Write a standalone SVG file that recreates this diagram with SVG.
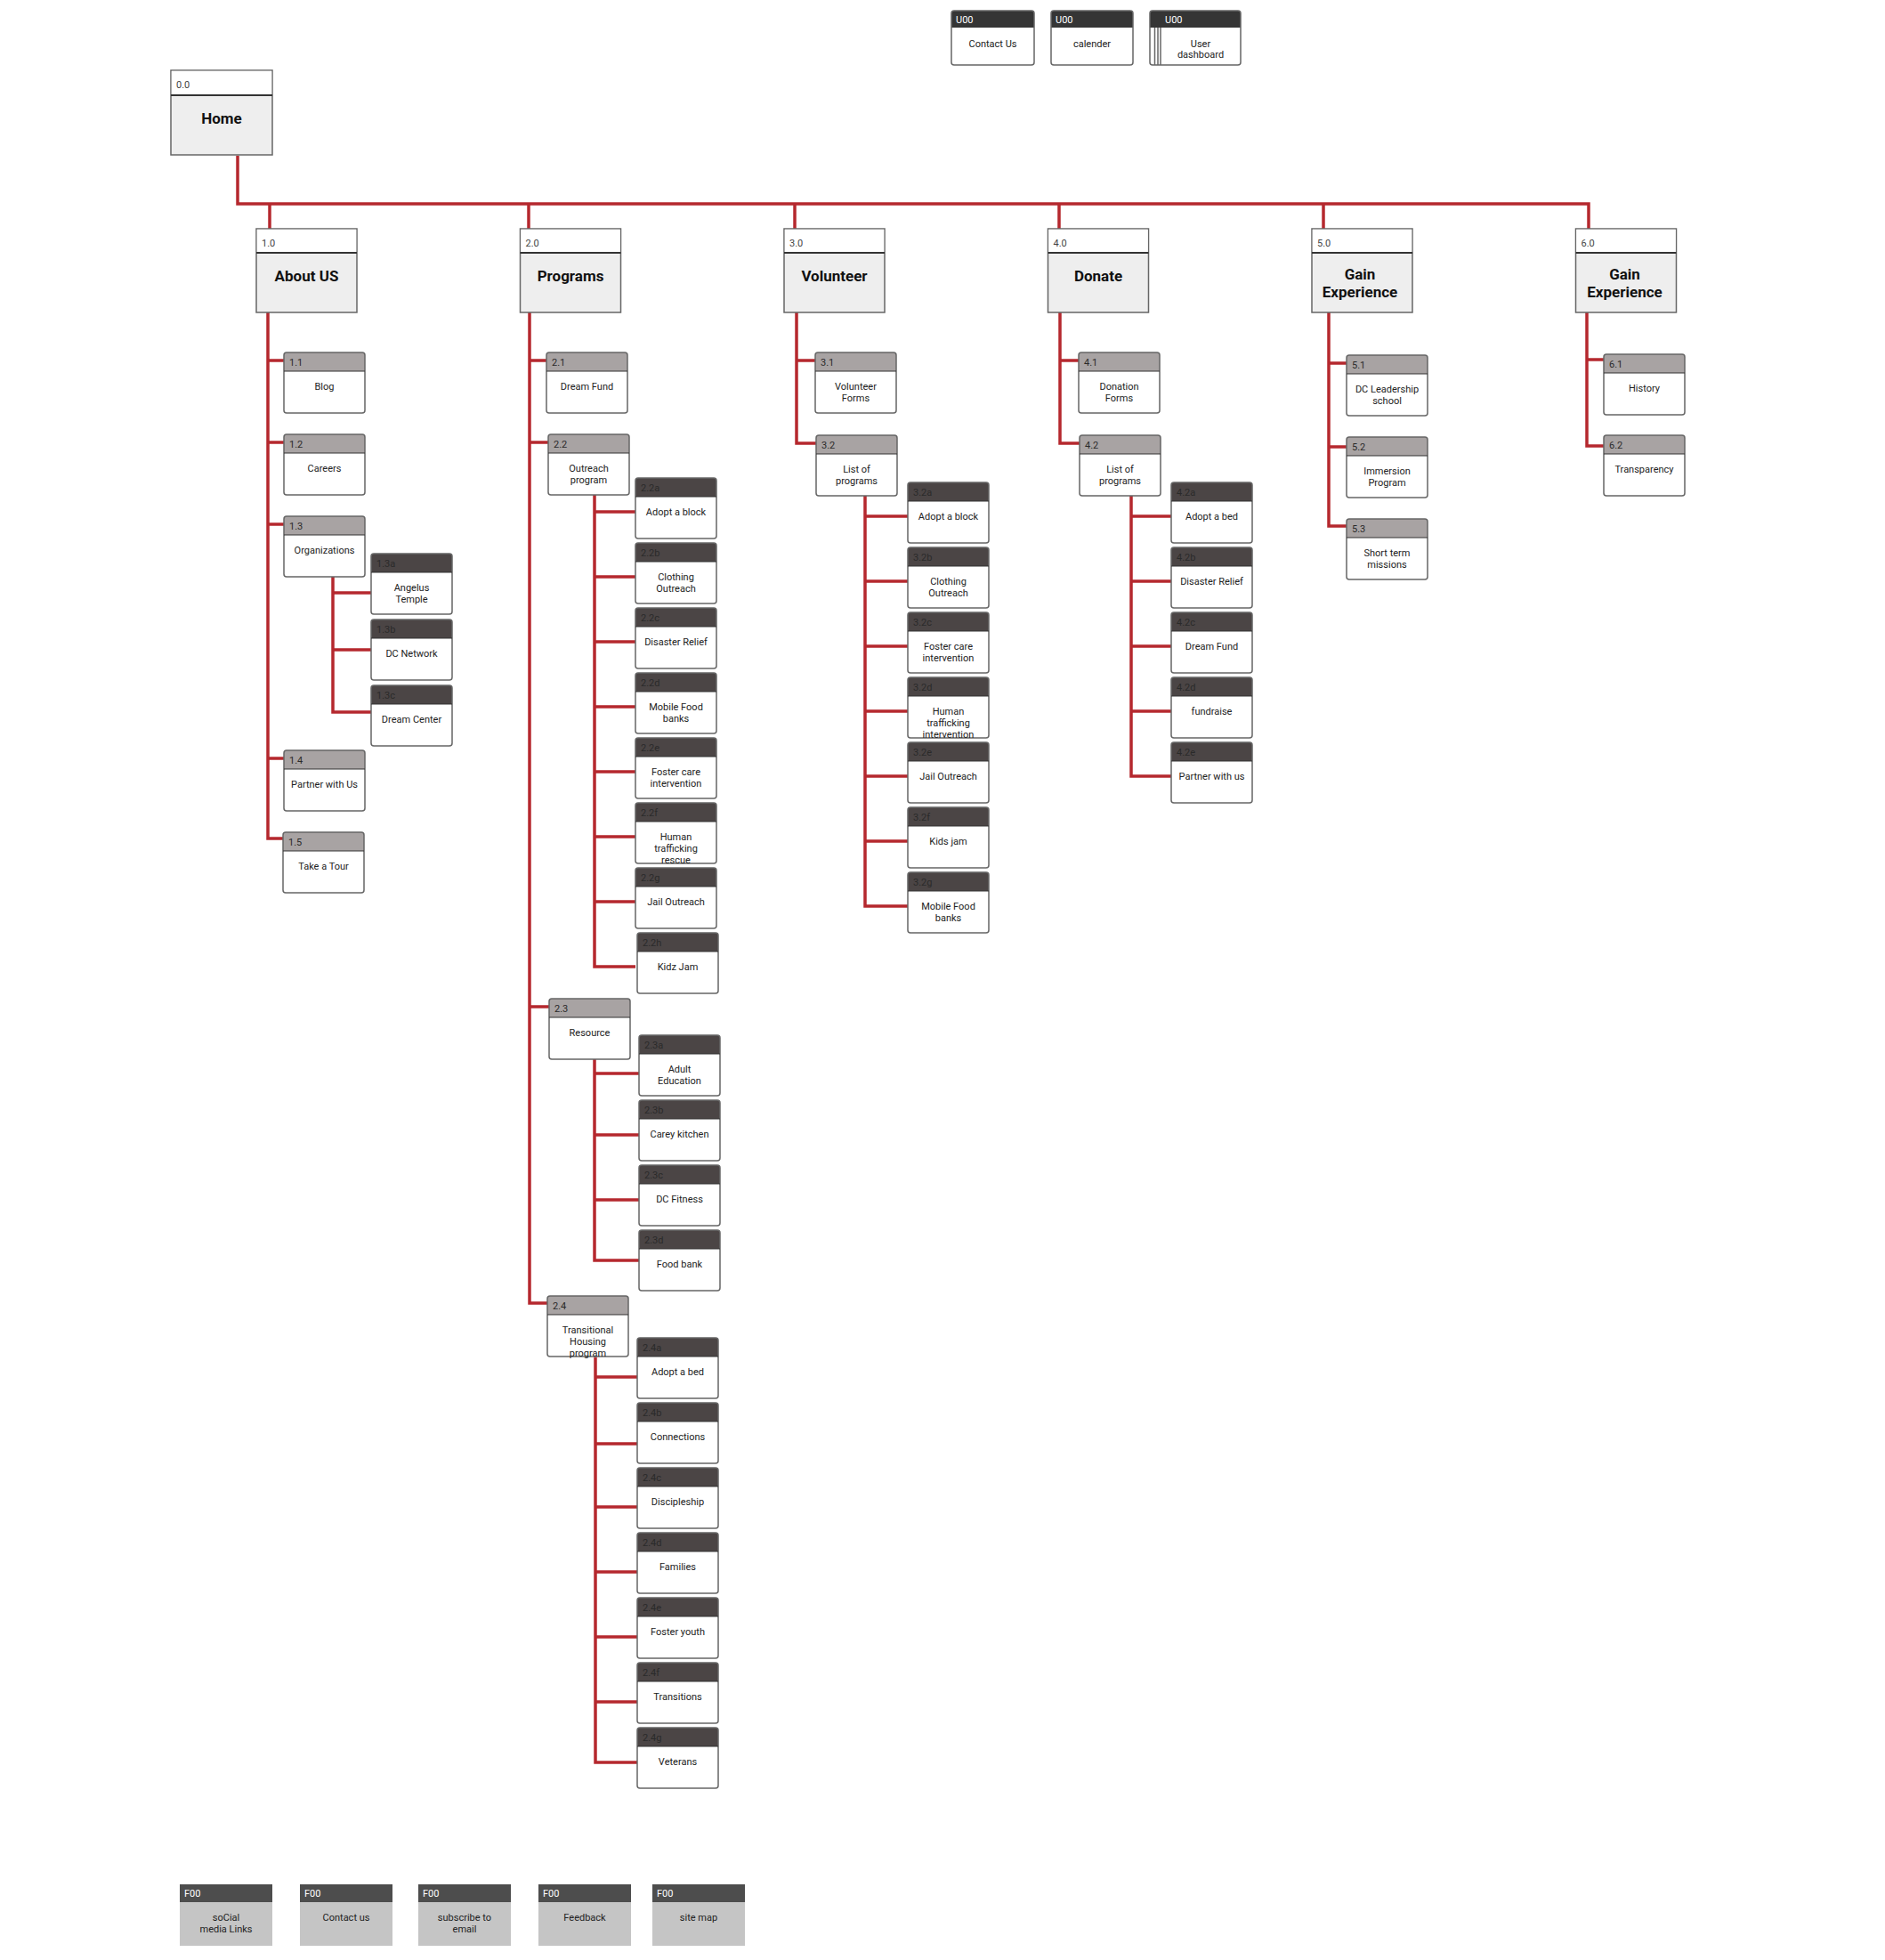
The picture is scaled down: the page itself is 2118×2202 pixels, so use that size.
<svg xmlns="http://www.w3.org/2000/svg" xmlns:xlink="http://www.w3.org/1999/xlink" width="2118" height="2202" viewBox="0 0 2118 2202">
  <style>
    text { font-family: Roboto, "Liberation Sans", sans-serif; }
    .wire { fill: none; stroke: #b5282e; stroke-width: 3.5; stroke-linejoin: miter; stroke-linecap: butt; }
    .l1frame { fill: #eeeeee; stroke: #666666; stroke-width: 1.5; }
    .l1hdr { fill: #ffffff; }
    .l1sep { stroke: #333333; stroke-width: 2; }
    .l1id { font-size: 11px; fill: #444444; }
    .l1lbl { font-size: 17px; font-weight: bold; fill: #111111; text-anchor: middle; }
    .cbody { fill: #ffffff; }
    .cframe { fill: none; stroke: #666666; stroke-width: 1.5; }
    .csep { stroke: #333333; stroke-width: 1.2; }
    .h2 { fill: #a8a3a3; }
    .h3 { fill: #4b4545; }
    .hu { fill: #353535; }
    .cid { font-size: 11px; fill: #2a2a2a; }
    .uid { font-size: 11px; fill: #ffffff; }
    .clbl { font-size: 11px; fill: #222222; text-anchor: middle; }
    .fhdr { fill: #4d4d4d; }
    .fbody { fill: #c5c5c5; }
    .fid { font-size: 11px; fill: #ffffff; }
    .flbl { font-size: 11px; fill: #222222; text-anchor: middle; }
  </style>
  <defs>
    <!-- header strip with rounded top corners, 91 wide -->
    <path id="hdr91" d="M0,3 Q0,0 3,0 H88 Q91,0 91,3 V21 H0 Z"/>
  </defs>

  <rect width="2118" height="2202" fill="#ffffff"/>

  <!-- connectors -->
  <g id="connectors" class="wire">
    <!-- home bus -->
    <path d="M267,175 V229 H1785 V257"/>
    <path d="M303,229 V257 M594,229 V257 M893,229 V257 M1190,229 V257 M1487,229 V257"/>
    <!-- About US -->
    <path d="M301,351 V942 H318"/>
    <path d="M301,405 H319 M301,497 H319 M301,589 H319 M301,852 H319"/>
    <path d="M374,648 V800 H417 M374,666 H417 M374,730 H417"/>
    <!-- Programs -->
    <path d="M595,351 V1464 H615"/>
    <path d="M595,405 H614 M595,497 H616 M595,1131 H617"/>
    <path d="M668,556 V1086 H714"/>
    <path d="M668,575 H714 M668,648 H714 M668,721 H714 M668,794 H714 M668,867 H714 M668,940 H714 M668,1013 H714"/>
    <path d="M668,1190 V1416 H718"/>
    <path d="M668,1206 H718 M668,1275 H718 M668,1348 H718"/>
    <path d="M669,1525 V1980 H716"/>
    <path d="M669,1547 H716 M669,1622 H716 M669,1693 H716 M669,1766 H716 M669,1839 H716 M669,1912 H716"/>
    <!-- Volunteer -->
    <path d="M895,351 V498 H917"/>
    <path d="M895,405 H916"/>
    <path d="M972,557 V1018 H1020"/>
    <path d="M972,580 H1020 M972,653 H1020 M972,726 H1020 M972,799 H1020 M972,872 H1020 M972,945 H1020"/>
    <!-- Donate -->
    <path d="M1191,351 V498 H1213"/>
    <path d="M1191,405 H1212"/>
    <path d="M1271,557 V872 H1316"/>
    <path d="M1271,580 H1316 M1271,653 H1316 M1271,726 H1316 M1271,799 H1316"/>
    <!-- Gain Experience 5 -->
    <path d="M1493,351 V591 H1513"/>
    <path d="M1493,408 H1513 M1493,502 H1513"/>
    <!-- Gain Experience 6 -->
    <path d="M1783,351 V501 H1802"/>
    <path d="M1783,404 H1802"/>
  </g>

  <!-- home -->
  <g id="n0_0" transform="translate(192,79)">
    <rect class="l1frame" width="114" height="95"/>
    <rect class="l1hdr" x="0.75" y="0.75" width="112.5" height="27"/>
    <line class="l1sep" x1="0" y1="28" x2="114" y2="28"/>
    <text class="l1id" x="6" y="20">0.0</text>
    <text class="l1lbl" x="57" y="60">Home</text>
  </g>

  <!-- top level sections -->
  <g id="n1_0" transform="translate(288,257)">
    <rect class="l1frame" width="113" height="94"/>
    <rect class="l1hdr" x="0.75" y="0.75" width="111.5" height="26"/>
    <line class="l1sep" x1="0" y1="27" x2="113" y2="27"/>
    <text class="l1id" x="6" y="20">1.0</text>
    <text class="l1lbl" x="56.5" y="59">About US</text>
  </g>
  <g id="n2_0" transform="translate(584.5,257)">
    <rect class="l1frame" width="113" height="94"/>
    <rect class="l1hdr" x="0.75" y="0.75" width="111.5" height="26"/>
    <line class="l1sep" x1="0" y1="27" x2="113" y2="27"/>
    <text class="l1id" x="6" y="20">2.0</text>
    <text class="l1lbl" x="56.5" y="59">Programs</text>
  </g>
  <g id="n3_0" transform="translate(881,257)">
    <rect class="l1frame" width="113" height="94"/>
    <rect class="l1hdr" x="0.75" y="0.75" width="111.5" height="26"/>
    <line class="l1sep" x1="0" y1="27" x2="113" y2="27"/>
    <text class="l1id" x="6" y="20">3.0</text>
    <text class="l1lbl" x="56.5" y="59">Volunteer</text>
  </g>
  <g id="n4_0" transform="translate(1177.5,257)">
    <rect class="l1frame" width="113" height="94"/>
    <rect class="l1hdr" x="0.75" y="0.75" width="111.5" height="26"/>
    <line class="l1sep" x1="0" y1="27" x2="113" y2="27"/>
    <text class="l1id" x="6" y="20">4.0</text>
    <text class="l1lbl" x="56.5" y="59">Donate</text>
  </g>
  <g id="n5_0" transform="translate(1474,257)">
    <rect class="l1frame" width="113" height="94"/>
    <rect class="l1hdr" x="0.75" y="0.75" width="111.5" height="26"/>
    <line class="l1sep" x1="0" y1="27" x2="113" y2="27"/>
    <text class="l1id" x="6" y="20">5.0</text>
    <text class="l1lbl" x="54" y="57">Gain</text>
    <text class="l1lbl" x="54" y="77">Experience</text>
  </g>
  <g id="n6_0" transform="translate(1770.5,257)">
    <rect class="l1frame" width="113" height="94"/>
    <rect class="l1hdr" x="0.75" y="0.75" width="111.5" height="26"/>
    <line class="l1sep" x1="0" y1="27" x2="113" y2="27"/>
    <text class="l1id" x="6" y="20">6.0</text>
    <text class="l1lbl" x="55" y="57">Gain</text>
    <text class="l1lbl" x="55" y="77">Experience</text>
  </g>

  <!-- About US pages -->
  <g id="n1_1" transform="translate(319,396)">
    <rect class="cbody" width="91" height="68" rx="3"/><use xlink:href="#hdr91" class="h2"/>
    <rect class="cframe" width="91" height="68" rx="3"/><line class="csep" x1="0" y1="21" x2="91" y2="21"/>
    <text class="cid" x="6" y="15">1.1</text><text class="clbl" x="45.5" y="42">Blog</text>
  </g>
  <g id="n1_2" transform="translate(319,488)">
    <rect class="cbody" width="91" height="68" rx="3"/><use xlink:href="#hdr91" class="h2"/>
    <rect class="cframe" width="91" height="68" rx="3"/><line class="csep" x1="0" y1="21" x2="91" y2="21"/>
    <text class="cid" x="6" y="15">1.2</text><text class="clbl" x="45.5" y="42">Careers</text>
  </g>
  <g id="n1_3" transform="translate(319,580)">
    <rect class="cbody" width="91" height="68" rx="3"/><use xlink:href="#hdr91" class="h2"/>
    <rect class="cframe" width="91" height="68" rx="3"/><line class="csep" x1="0" y1="21" x2="91" y2="21"/>
    <text class="cid" x="6" y="15">1.3</text><text class="clbl" x="45.5" y="42">Organizations</text>
  </g>
  <g id="n1_3a" transform="translate(417,622)">
    <rect class="cbody" width="91" height="68" rx="3"/><use xlink:href="#hdr91" class="h3"/>
    <rect class="cframe" width="91" height="68" rx="3"/><line class="csep" x1="0" y1="21" x2="91" y2="21"/>
    <text class="cid" x="6" y="15">1.3a</text><text class="clbl" x="45.5" y="42">Angelus</text><text class="clbl" x="45.5" y="55">Temple</text>
  </g>
  <g id="n1_3b" transform="translate(417,696)">
    <rect class="cbody" width="91" height="68" rx="3"/><use xlink:href="#hdr91" class="h3"/>
    <rect class="cframe" width="91" height="68" rx="3"/><line class="csep" x1="0" y1="21" x2="91" y2="21"/>
    <text class="cid" x="6" y="15">1.3b</text><text class="clbl" x="45.5" y="42">DC Network</text>
  </g>
  <g id="n1_3c" transform="translate(417,770)">
    <rect class="cbody" width="91" height="68" rx="3"/><use xlink:href="#hdr91" class="h3"/>
    <rect class="cframe" width="91" height="68" rx="3"/><line class="csep" x1="0" y1="21" x2="91" y2="21"/>
    <text class="cid" x="6" y="15">1.3c</text><text class="clbl" x="45.5" y="42">Dream Center</text>
  </g>
  <g id="n1_4" transform="translate(319,843)">
    <rect class="cbody" width="91" height="68" rx="3"/><use xlink:href="#hdr91" class="h2"/>
    <rect class="cframe" width="91" height="68" rx="3"/><line class="csep" x1="0" y1="21" x2="91" y2="21"/>
    <text class="cid" x="6" y="15">1.4</text><text class="clbl" x="45.5" y="42">Partner with Us</text>
  </g>
  <g id="n1_5" transform="translate(318,935)">
    <rect class="cbody" width="91" height="68" rx="3"/><use xlink:href="#hdr91" class="h2"/>
    <rect class="cframe" width="91" height="68" rx="3"/><line class="csep" x1="0" y1="21" x2="91" y2="21"/>
    <text class="cid" x="6" y="15">1.5</text><text class="clbl" x="45.5" y="42">Take a Tour</text>
  </g>

  <!-- Programs pages -->
  <g id="n2_1" transform="translate(614,396)">
    <rect class="cbody" width="91" height="68" rx="3"/><use xlink:href="#hdr91" class="h2"/>
    <rect class="cframe" width="91" height="68" rx="3"/><line class="csep" x1="0" y1="21" x2="91" y2="21"/>
    <text class="cid" x="6" y="15">2.1</text><text class="clbl" x="45.5" y="42">Dream Fund</text>
  </g>
  <g id="n2_2" transform="translate(616,488)">
    <rect class="cbody" width="91" height="68" rx="3"/><use xlink:href="#hdr91" class="h2"/>
    <rect class="cframe" width="91" height="68" rx="3"/><line class="csep" x1="0" y1="21" x2="91" y2="21"/>
    <text class="cid" x="6" y="15">2.2</text><text class="clbl" x="45.5" y="42">Outreach</text><text class="clbl" x="45.5" y="55">program</text>
  </g>
  <g id="n2_2a" transform="translate(714,537)">
    <rect class="cbody" width="91" height="68" rx="3"/><use xlink:href="#hdr91" class="h3"/>
    <rect class="cframe" width="91" height="68" rx="3"/><line class="csep" x1="0" y1="21" x2="91" y2="21"/>
    <text class="cid" x="6" y="15">2.2a</text><text class="clbl" x="45.5" y="42">Adopt a block</text>
  </g>
  <g id="n2_2b" transform="translate(714,610)">
    <rect class="cbody" width="91" height="68" rx="3"/><use xlink:href="#hdr91" class="h3"/>
    <rect class="cframe" width="91" height="68" rx="3"/><line class="csep" x1="0" y1="21" x2="91" y2="21"/>
    <text class="cid" x="6" y="15">2.2b</text><text class="clbl" x="45.5" y="42">Clothing</text><text class="clbl" x="45.5" y="55">Outreach</text>
  </g>
  <g id="n2_2c" transform="translate(714,683)">
    <rect class="cbody" width="91" height="68" rx="3"/><use xlink:href="#hdr91" class="h3"/>
    <rect class="cframe" width="91" height="68" rx="3"/><line class="csep" x1="0" y1="21" x2="91" y2="21"/>
    <text class="cid" x="6" y="15">2.2c</text><text class="clbl" x="45.5" y="42">Disaster Relief</text>
  </g>
  <g id="n2_2d" transform="translate(714,756)">
    <rect class="cbody" width="91" height="68" rx="3"/><use xlink:href="#hdr91" class="h3"/>
    <rect class="cframe" width="91" height="68" rx="3"/><line class="csep" x1="0" y1="21" x2="91" y2="21"/>
    <text class="cid" x="6" y="15">2.2d</text><text class="clbl" x="45.5" y="42">Mobile Food</text><text class="clbl" x="45.5" y="55">banks</text>
  </g>
  <g id="n2_2e" transform="translate(714,829)">
    <rect class="cbody" width="91" height="68" rx="3"/><use xlink:href="#hdr91" class="h3"/>
    <rect class="cframe" width="91" height="68" rx="3"/><line class="csep" x1="0" y1="21" x2="91" y2="21"/>
    <text class="cid" x="6" y="15">2.2e</text><text class="clbl" x="45.5" y="42">Foster care</text><text class="clbl" x="45.5" y="55">intervention</text>
  </g>
  <g id="n2_2f" transform="translate(714,902)">
    <rect class="cbody" width="91" height="68" rx="3"/><use xlink:href="#hdr91" class="h3"/>
    <rect class="cframe" width="91" height="68" rx="3"/><line class="csep" x1="0" y1="21" x2="91" y2="21"/>
    <text class="cid" x="6" y="15">2.2f</text><text class="clbl" x="45.5" y="42">Human</text><text class="clbl" x="45.5" y="55">trafficking</text><text class="clbl" x="45.5" y="68">rescue</text>
  </g>
  <g id="n2_2g" transform="translate(714,975)">
    <rect class="cbody" width="91" height="68" rx="3"/><use xlink:href="#hdr91" class="h3"/>
    <rect class="cframe" width="91" height="68" rx="3"/><line class="csep" x1="0" y1="21" x2="91" y2="21"/>
    <text class="cid" x="6" y="15">2.2g</text><text class="clbl" x="45.5" y="42">Jail Outreach</text>
  </g>
  <g id="n2_2h" transform="translate(716,1048)">
    <rect class="cbody" width="91" height="68" rx="3"/><use xlink:href="#hdr91" class="h3"/>
    <rect class="cframe" width="91" height="68" rx="3"/><line class="csep" x1="0" y1="21" x2="91" y2="21"/>
    <text class="cid" x="6" y="15">2.2h</text><text class="clbl" x="45.5" y="42">Kidz Jam</text>
  </g>
  <g id="n2_3" transform="translate(617,1122)">
    <rect class="cbody" width="91" height="68" rx="3"/><use xlink:href="#hdr91" class="h2"/>
    <rect class="cframe" width="91" height="68" rx="3"/><line class="csep" x1="0" y1="21" x2="91" y2="21"/>
    <text class="cid" x="6" y="15">2.3</text><text class="clbl" x="45.5" y="42">Resource</text>
  </g>
  <g id="n2_3a" transform="translate(718,1163)">
    <rect class="cbody" width="91" height="68" rx="3"/><use xlink:href="#hdr91" class="h3"/>
    <rect class="cframe" width="91" height="68" rx="3"/><line class="csep" x1="0" y1="21" x2="91" y2="21"/>
    <text class="cid" x="6" y="15">2.3a</text><text class="clbl" x="45.5" y="42">Adult</text><text class="clbl" x="45.5" y="55">Education</text>
  </g>
  <g id="n2_3b" transform="translate(718,1236)">
    <rect class="cbody" width="91" height="68" rx="3"/><use xlink:href="#hdr91" class="h3"/>
    <rect class="cframe" width="91" height="68" rx="3"/><line class="csep" x1="0" y1="21" x2="91" y2="21"/>
    <text class="cid" x="6" y="15">2.3b</text><text class="clbl" x="45.5" y="42">Carey kitchen</text>
  </g>
  <g id="n2_3c" transform="translate(718,1309)">
    <rect class="cbody" width="91" height="68" rx="3"/><use xlink:href="#hdr91" class="h3"/>
    <rect class="cframe" width="91" height="68" rx="3"/><line class="csep" x1="0" y1="21" x2="91" y2="21"/>
    <text class="cid" x="6" y="15">2.3c</text><text class="clbl" x="45.5" y="42">DC Fitness</text>
  </g>
  <g id="n2_3d" transform="translate(718,1382)">
    <rect class="cbody" width="91" height="68" rx="3"/><use xlink:href="#hdr91" class="h3"/>
    <rect class="cframe" width="91" height="68" rx="3"/><line class="csep" x1="0" y1="21" x2="91" y2="21"/>
    <text class="cid" x="6" y="15">2.3d</text><text class="clbl" x="45.5" y="42">Food bank</text>
  </g>
  <g id="n2_4" transform="translate(615,1456)">
    <rect class="cbody" width="91" height="68" rx="3"/><use xlink:href="#hdr91" class="h2"/>
    <rect class="cframe" width="91" height="68" rx="3"/><line class="csep" x1="0" y1="21" x2="91" y2="21"/>
    <text class="cid" x="6" y="15">2.4</text><text class="clbl" x="45.5" y="42">Transitional</text><text class="clbl" x="45.5" y="55">Housing</text><text class="clbl" x="45.5" y="68">program</text>
  </g>
  <g id="n2_4a" transform="translate(716,1503)">
    <rect class="cbody" width="91" height="68" rx="3"/><use xlink:href="#hdr91" class="h3"/>
    <rect class="cframe" width="91" height="68" rx="3"/><line class="csep" x1="0" y1="21" x2="91" y2="21"/>
    <text class="cid" x="6" y="15">2.4a</text><text class="clbl" x="45.5" y="42">Adopt a bed</text>
  </g>
  <g id="n2_4b" transform="translate(716,1576)">
    <rect class="cbody" width="91" height="68" rx="3"/><use xlink:href="#hdr91" class="h3"/>
    <rect class="cframe" width="91" height="68" rx="3"/><line class="csep" x1="0" y1="21" x2="91" y2="21"/>
    <text class="cid" x="6" y="15">2.4b</text><text class="clbl" x="45.5" y="42">Connections</text>
  </g>
  <g id="n2_4c" transform="translate(716,1649)">
    <rect class="cbody" width="91" height="68" rx="3"/><use xlink:href="#hdr91" class="h3"/>
    <rect class="cframe" width="91" height="68" rx="3"/><line class="csep" x1="0" y1="21" x2="91" y2="21"/>
    <text class="cid" x="6" y="15">2.4c</text><text class="clbl" x="45.5" y="42">Discipleship</text>
  </g>
  <g id="n2_4d" transform="translate(716,1722)">
    <rect class="cbody" width="91" height="68" rx="3"/><use xlink:href="#hdr91" class="h3"/>
    <rect class="cframe" width="91" height="68" rx="3"/><line class="csep" x1="0" y1="21" x2="91" y2="21"/>
    <text class="cid" x="6" y="15">2.4d</text><text class="clbl" x="45.5" y="42">Families</text>
  </g>
  <g id="n2_4e" transform="translate(716,1795)">
    <rect class="cbody" width="91" height="68" rx="3"/><use xlink:href="#hdr91" class="h3"/>
    <rect class="cframe" width="91" height="68" rx="3"/><line class="csep" x1="0" y1="21" x2="91" y2="21"/>
    <text class="cid" x="6" y="15">2.4e</text><text class="clbl" x="45.5" y="42">Foster youth</text>
  </g>
  <g id="n2_4f" transform="translate(716,1868)">
    <rect class="cbody" width="91" height="68" rx="3"/><use xlink:href="#hdr91" class="h3"/>
    <rect class="cframe" width="91" height="68" rx="3"/><line class="csep" x1="0" y1="21" x2="91" y2="21"/>
    <text class="cid" x="6" y="15">2.4f</text><text class="clbl" x="45.5" y="42">Transitions</text>
  </g>
  <g id="n2_4g" transform="translate(716,1941)">
    <rect class="cbody" width="91" height="68" rx="3"/><use xlink:href="#hdr91" class="h3"/>
    <rect class="cframe" width="91" height="68" rx="3"/><line class="csep" x1="0" y1="21" x2="91" y2="21"/>
    <text class="cid" x="6" y="15">2.4g</text><text class="clbl" x="45.5" y="42">Veterans</text>
  </g>

  <!-- Volunteer pages -->
  <g id="n3_1" transform="translate(916,396)">
    <rect class="cbody" width="91" height="68" rx="3"/><use xlink:href="#hdr91" class="h2"/>
    <rect class="cframe" width="91" height="68" rx="3"/><line class="csep" x1="0" y1="21" x2="91" y2="21"/>
    <text class="cid" x="6" y="15">3.1</text><text class="clbl" x="45.5" y="42">Volunteer</text><text class="clbl" x="45.5" y="55">Forms</text>
  </g>
  <g id="n3_2" transform="translate(917,489)">
    <rect class="cbody" width="91" height="68" rx="3"/><use xlink:href="#hdr91" class="h2"/>
    <rect class="cframe" width="91" height="68" rx="3"/><line class="csep" x1="0" y1="21" x2="91" y2="21"/>
    <text class="cid" x="6" y="15">3.2</text><text class="clbl" x="45.5" y="42">List of</text><text class="clbl" x="45.5" y="55">programs</text>
  </g>
  <g id="n3_2a" transform="translate(1020,542)">
    <rect class="cbody" width="91" height="68" rx="3"/><use xlink:href="#hdr91" class="h3"/>
    <rect class="cframe" width="91" height="68" rx="3"/><line class="csep" x1="0" y1="21" x2="91" y2="21"/>
    <text class="cid" x="6" y="15">3.2a</text><text class="clbl" x="45.5" y="42">Adopt a block</text>
  </g>
  <g id="n3_2b" transform="translate(1020,615)">
    <rect class="cbody" width="91" height="68" rx="3"/><use xlink:href="#hdr91" class="h3"/>
    <rect class="cframe" width="91" height="68" rx="3"/><line class="csep" x1="0" y1="21" x2="91" y2="21"/>
    <text class="cid" x="6" y="15">3.2b</text><text class="clbl" x="45.5" y="42">Clothing</text><text class="clbl" x="45.5" y="55">Outreach</text>
  </g>
  <g id="n3_2c" transform="translate(1020,688)">
    <rect class="cbody" width="91" height="68" rx="3"/><use xlink:href="#hdr91" class="h3"/>
    <rect class="cframe" width="91" height="68" rx="3"/><line class="csep" x1="0" y1="21" x2="91" y2="21"/>
    <text class="cid" x="6" y="15">3.2c</text><text class="clbl" x="45.5" y="42">Foster care</text><text class="clbl" x="45.5" y="55">intervention</text>
  </g>
  <g id="n3_2d" transform="translate(1020,761)">
    <rect class="cbody" width="91" height="68" rx="3"/><use xlink:href="#hdr91" class="h3"/>
    <rect class="cframe" width="91" height="68" rx="3"/><line class="csep" x1="0" y1="21" x2="91" y2="21"/>
    <text class="cid" x="6" y="15">3.2d</text><text class="clbl" x="45.5" y="42">Human</text><text class="clbl" x="45.5" y="55">trafficking</text><text class="clbl" x="45.5" y="68">intervention</text>
  </g>
  <g id="n3_2e" transform="translate(1020,834)">
    <rect class="cbody" width="91" height="68" rx="3"/><use xlink:href="#hdr91" class="h3"/>
    <rect class="cframe" width="91" height="68" rx="3"/><line class="csep" x1="0" y1="21" x2="91" y2="21"/>
    <text class="cid" x="6" y="15">3.2e</text><text class="clbl" x="45.5" y="42">Jail Outreach</text>
  </g>
  <g id="n3_2f" transform="translate(1020,907)">
    <rect class="cbody" width="91" height="68" rx="3"/><use xlink:href="#hdr91" class="h3"/>
    <rect class="cframe" width="91" height="68" rx="3"/><line class="csep" x1="0" y1="21" x2="91" y2="21"/>
    <text class="cid" x="6" y="15">3.2f</text><text class="clbl" x="45.5" y="42">Kids jam</text>
  </g>
  <g id="n3_2g" transform="translate(1020,980)">
    <rect class="cbody" width="91" height="68" rx="3"/><use xlink:href="#hdr91" class="h3"/>
    <rect class="cframe" width="91" height="68" rx="3"/><line class="csep" x1="0" y1="21" x2="91" y2="21"/>
    <text class="cid" x="6" y="15">3.2g</text><text class="clbl" x="45.5" y="42">Mobile Food</text><text class="clbl" x="45.5" y="55">banks</text>
  </g>

  <!-- Donate pages -->
  <g id="n4_1" transform="translate(1212,396)">
    <rect class="cbody" width="91" height="68" rx="3"/><use xlink:href="#hdr91" class="h2"/>
    <rect class="cframe" width="91" height="68" rx="3"/><line class="csep" x1="0" y1="21" x2="91" y2="21"/>
    <text class="cid" x="6" y="15">4.1</text><text class="clbl" x="45.5" y="42">Donation</text><text class="clbl" x="45.5" y="55">Forms</text>
  </g>
  <g id="n4_2" transform="translate(1213,489)">
    <rect class="cbody" width="91" height="68" rx="3"/><use xlink:href="#hdr91" class="h2"/>
    <rect class="cframe" width="91" height="68" rx="3"/><line class="csep" x1="0" y1="21" x2="91" y2="21"/>
    <text class="cid" x="6" y="15">4.2</text><text class="clbl" x="45.5" y="42">List of</text><text class="clbl" x="45.5" y="55">programs</text>
  </g>
  <g id="n4_2a" transform="translate(1316,542)">
    <rect class="cbody" width="91" height="68" rx="3"/><use xlink:href="#hdr91" class="h3"/>
    <rect class="cframe" width="91" height="68" rx="3"/><line class="csep" x1="0" y1="21" x2="91" y2="21"/>
    <text class="cid" x="6" y="15">4.2a</text><text class="clbl" x="45.5" y="42">Adopt a bed</text>
  </g>
  <g id="n4_2b" transform="translate(1316,615)">
    <rect class="cbody" width="91" height="68" rx="3"/><use xlink:href="#hdr91" class="h3"/>
    <rect class="cframe" width="91" height="68" rx="3"/><line class="csep" x1="0" y1="21" x2="91" y2="21"/>
    <text class="cid" x="6" y="15">4.2b</text><text class="clbl" x="45.5" y="42">Disaster Relief</text>
  </g>
  <g id="n4_2c" transform="translate(1316,688)">
    <rect class="cbody" width="91" height="68" rx="3"/><use xlink:href="#hdr91" class="h3"/>
    <rect class="cframe" width="91" height="68" rx="3"/><line class="csep" x1="0" y1="21" x2="91" y2="21"/>
    <text class="cid" x="6" y="15">4.2c</text><text class="clbl" x="45.5" y="42">Dream Fund</text>
  </g>
  <g id="n4_2d" transform="translate(1316,761)">
    <rect class="cbody" width="91" height="68" rx="3"/><use xlink:href="#hdr91" class="h3"/>
    <rect class="cframe" width="91" height="68" rx="3"/><line class="csep" x1="0" y1="21" x2="91" y2="21"/>
    <text class="cid" x="6" y="15">4.2d</text><text class="clbl" x="45.5" y="42">fundraise</text>
  </g>
  <g id="n4_2e" transform="translate(1316,834)">
    <rect class="cbody" width="91" height="68" rx="3"/><use xlink:href="#hdr91" class="h3"/>
    <rect class="cframe" width="91" height="68" rx="3"/><line class="csep" x1="0" y1="21" x2="91" y2="21"/>
    <text class="cid" x="6" y="15">4.2e</text><text class="clbl" x="45.5" y="42">Partner with us</text>
  </g>

  <!-- Gain Experience (5) pages -->
  <g id="n5_1" transform="translate(1513,399)">
    <rect class="cbody" width="91" height="68" rx="3"/><use xlink:href="#hdr91" class="h2"/>
    <rect class="cframe" width="91" height="68" rx="3"/><line class="csep" x1="0" y1="21" x2="91" y2="21"/>
    <text class="cid" x="6" y="15">5.1</text><text class="clbl" x="45.5" y="42">DC Leadership</text><text class="clbl" x="45.5" y="55">school</text>
  </g>
  <g id="n5_2" transform="translate(1513,491)">
    <rect class="cbody" width="91" height="68" rx="3"/><use xlink:href="#hdr91" class="h2"/>
    <rect class="cframe" width="91" height="68" rx="3"/><line class="csep" x1="0" y1="21" x2="91" y2="21"/>
    <text class="cid" x="6" y="15">5.2</text><text class="clbl" x="45.5" y="42">Immersion</text><text class="clbl" x="45.5" y="55">Program</text>
  </g>
  <g id="n5_3" transform="translate(1513,583)">
    <rect class="cbody" width="91" height="68" rx="3"/><use xlink:href="#hdr91" class="h2"/>
    <rect class="cframe" width="91" height="68" rx="3"/><line class="csep" x1="0" y1="21" x2="91" y2="21"/>
    <text class="cid" x="6" y="15">5.3</text><text class="clbl" x="45.5" y="42">Short term</text><text class="clbl" x="45.5" y="55">missions</text>
  </g>

  <!-- Gain Experience (6) pages -->
  <g id="n6_1" transform="translate(1802,398)">
    <rect class="cbody" width="91" height="68" rx="3"/><use xlink:href="#hdr91" class="h2"/>
    <rect class="cframe" width="91" height="68" rx="3"/><line class="csep" x1="0" y1="21" x2="91" y2="21"/>
    <text class="cid" x="6" y="15">6.1</text><text class="clbl" x="45.5" y="42">History</text>
  </g>
  <g id="n6_2" transform="translate(1802,489)">
    <rect class="cbody" width="91" height="68" rx="3"/><use xlink:href="#hdr91" class="h2"/>
    <rect class="cframe" width="91" height="68" rx="3"/><line class="csep" x1="0" y1="21" x2="91" y2="21"/>
    <text class="cid" x="6" y="15">6.2</text><text class="clbl" x="45.5" y="42">Transparency</text>
  </g>

  <!-- utility pages -->
  <g id="u_contact" transform="translate(1069,12)">
    <rect class="cbody" width="93" height="61" rx="3"/>
    <path class="hu" d="M0,3 Q0,0 3,0 H90 Q93,0 93,3 V19 H0 Z"/>
    <rect class="cframe" width="93" height="61" rx="3"/>
    <text class="uid" x="5" y="14">U00</text>
    <text class="clbl" x="46.5" y="41">Contact Us</text>
  </g>
  <g id="u_calender" transform="translate(1181,12)">
    <rect class="cbody" width="92" height="61" rx="3"/>
    <path class="hu" d="M0,3 Q0,0 3,0 H89 Q92,0 92,3 V19 H0 Z"/>
    <rect class="cframe" width="92" height="61" rx="3"/>
    <text class="uid" x="5" y="14">U00</text>
    <text class="clbl" x="46" y="41">calender</text>
  </g>
  <g id="u_dashboard" transform="translate(1292,12)">
    <rect class="cbody" width="102" height="61" rx="3"/>
    <path class="hu" d="M0,3 Q0,0 3,0 H99 Q102,0 102,3 V19 H0 Z"/>
    <rect class="cframe" width="102" height="61" rx="3"/>
    <line class="cframe" x1="5.5" y1="19" x2="5.5" y2="61"/>
    <line class="cframe" x1="9" y1="19" x2="9" y2="61"/>
    <line class="cframe" x1="12" y1="19" x2="12" y2="61"/>
    <text class="uid" x="17" y="14">U00</text>
    <text class="clbl" x="57" y="41">User</text>
    <text class="clbl" x="57" y="53">dashboard</text>
  </g>

  <!-- footer items -->
  <g id="f_social" transform="translate(202,2117)">
    <rect class="fbody" width="104" height="69"/><rect class="fhdr" width="104" height="20"/>
    <text class="fid" x="5" y="14">F00</text>
    <text class="flbl" x="52" y="41">soCial</text><text class="flbl" x="52" y="54">media Links</text>
  </g>
  <g id="f_contact" transform="translate(337,2117)">
    <rect class="fbody" width="104" height="69"/><rect class="fhdr" width="104" height="20"/>
    <text class="fid" x="5" y="14">F00</text>
    <text class="flbl" x="52" y="41">Contact us</text>
  </g>
  <g id="f_subscribe" transform="translate(470,2117)">
    <rect class="fbody" width="104" height="69"/><rect class="fhdr" width="104" height="20"/>
    <text class="fid" x="5" y="14">F00</text>
    <text class="flbl" x="52" y="41">subscribe to</text><text class="flbl" x="52" y="54">email</text>
  </g>
  <g id="f_feedback" transform="translate(605,2117)">
    <rect class="fbody" width="104" height="69"/><rect class="fhdr" width="104" height="20"/>
    <text class="fid" x="5" y="14">F00</text>
    <text class="flbl" x="52" y="41">Feedback</text>
  </g>
  <g id="f_sitemap" transform="translate(733,2117)">
    <rect class="fbody" width="104" height="69"/><rect class="fhdr" width="104" height="20"/>
    <text class="fid" x="5" y="14">F00</text>
    <text class="flbl" x="52" y="41">site map</text>
  </g>
</svg>
